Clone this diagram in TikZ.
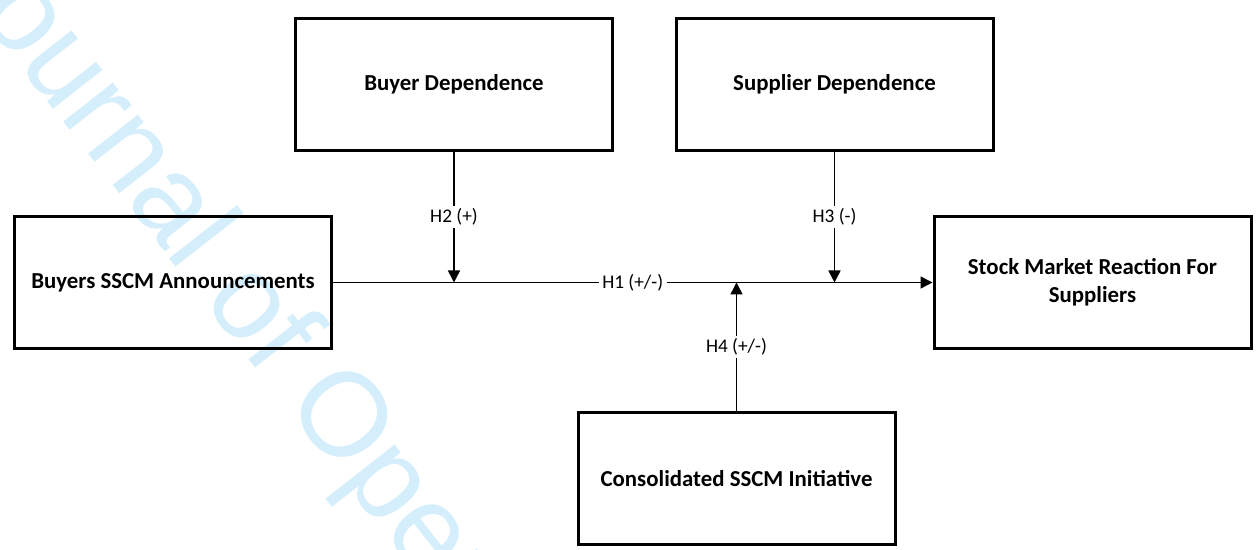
\documentclass[tikz,border=0pt]{standalone}
\usepackage{fontspec}
\setmainfont{Carlito}
\newfontfamily\markfont{Liberation Sans}
\usetikzlibrary{arrows.meta}
\definecolor{markblue}{RGB}{212,238,251}

\begin{document}
\begin{tikzpicture}[->, >={Triangle[length=0.24cm,width=0.24cm]}, line width=0.85pt,
  box/.style={draw, line width=1.7pt, minimum width=6.34cm, minimum height=2.64cm, align=center, font=\bfseries\fontsize{13}{16}\selectfont},
  hyp/.style={fill=white, inner xsep=2pt, inner ysep=1.5pt, font=\fontsize{11}{13}\selectfont}]
  \useasboundingbox (0,0) rectangle (25.14,11);
  \begin{scope}
    \clip (0,0) rectangle (25.14,11);
    \node[markblue, font=\markfont\fontsize{68}{68}\selectfont, rotate=-52, anchor=base west] (mark) at (-1.28,11.82) {Journal of Operations Management};
  \end{scope}

  \node[box] (BD) at (9.08,9.31) {Buyer Dependence};
  \node[box] (SD) at (16.69,9.31) {Supplier Dependence};
  \node[box] (AN) at (3.46,5.35) {Buyers SSCM Announcements};
  \node[box] (RE) at (21.85,5.35) {Stock Market Reaction For\\Suppliers};
  \node[box] (CO) at (14.73,1.43) {Consolidated SSCM Initiative};

  \draw (AN.east) -- node[hyp]{H1 (+/-)} (RE.west);
  \draw (BD.south) -- node[hyp]{H2 (+)} (BD.south |- RE.west);
  \draw (SD.south) -- node[hyp]{H3 (-)} (SD.south |- RE.west);
  \draw (CO.north) -- node[hyp]{H4 (+/-)} (CO.north |- RE.west);
\end{tikzpicture}
\end{document}
